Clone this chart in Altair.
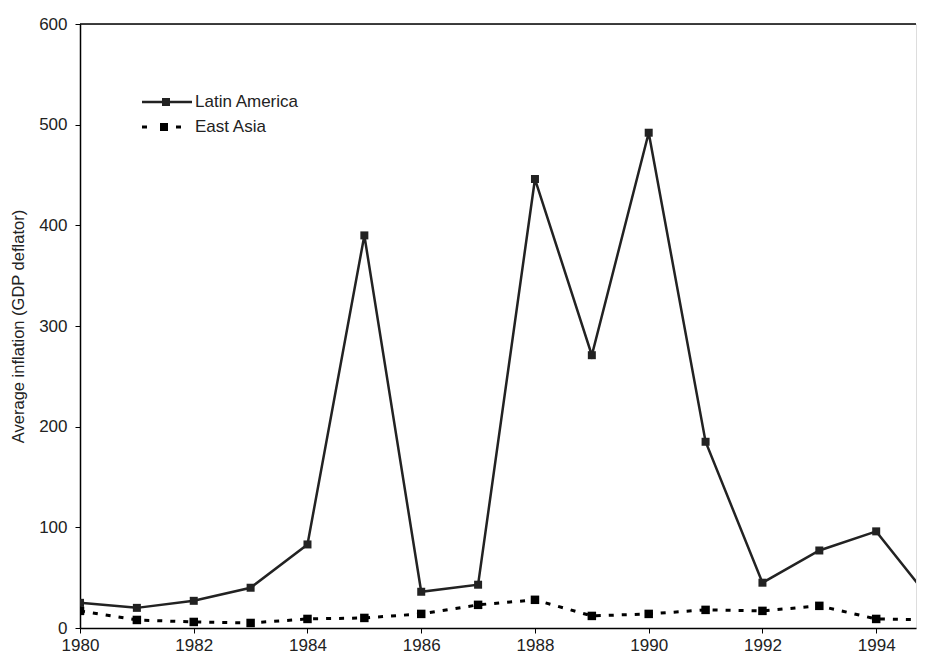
import altair as alt
import pandas as pd

years = list(range(1980, 1996))
latin_america = [25, 20, 27, 40, 83, 390, 36, 43, 446, 271, 492, 185, 45, 77, 96, 25]
east_asia = [17, 8, 6, 5, 9, 10, 14, 23, 28, 12, 14, 18, 17, 22, 9, 8]
series_names = ["Latin America", "East Asia"]
x_ticks = [1980, 1982, 1984, 1986, 1988, 1990, 1992, 1994]
y_ticks = [0, 100, 200, 300, 400, 500, 600]

df = pd.DataFrame({
    "year": years * 2,
    "value": latin_america + east_asia,
    "series": [series_names[0]] * len(years) + [series_names[1]] * len(years),
})

W = 836
H = 604
FONT = "Liberation Sans"
INK = "#222222"

x_scale = alt.Scale(domain=[1980, 1994.70], nice=False, zero=False)
y_scale = alt.Scale(domain=[0, 600], nice=False)

x_enc = alt.X("year:Q", scale=x_scale,
              axis=alt.Axis(values=x_ticks, format="d", title=None, grid=False,
                            tickSize=5, labelPadding=4, labelFontSize=17,
                            labelFont=FONT, labelColor=INK, domainColor="black",
                            domainWidth=1.5, tickColor="black", labelFlush=False,
                            labelOverlap=False))
y_enc = alt.Y("value:Q", scale=y_scale,
              axis=alt.Axis(values=y_ticks, title="Average inflation (GDP deflator)",
                            grid=False, tickSize=5, labelPadding=8, labelFontSize=17,
                            labelFont=FONT, labelColor=INK, titleFont=FONT,
                            titleFontSize=16.5, titleFontWeight="normal", titleColor=INK,
                            titlePadding=12, domainColor="black", domainWidth=1.5,
                            tickColor="black"))

la = alt.Chart(df).transform_filter(alt.datum.series == series_names[0]).mark_line(
    color=INK, strokeWidth=2.5, clip=True,
    point=alt.OverlayMarkDef(shape="square", size=64, filled=True, color=INK, clip=True),
).encode(x=x_enc, y=y_enc)

ea = alt.Chart(df).transform_filter(alt.datum.series == series_names[1]).mark_line(
    color="black", strokeWidth=3, strokeDash=[5, 8], clip=True,
    point=alt.OverlayMarkDef(shape="square", size=72, filled=True, color="black", clip=True),
).encode(x="year:Q", y="value:Q")

top_line = alt.Chart(pd.DataFrame({"series": [series_names[0]]})).mark_rule(
    color="black", strokeWidth=1.5
).encode(x=alt.value(0), x2=alt.value(W), y=alt.value(0))

leg_df = pd.DataFrame({"series": series_names})
legend_layers = []
for i, name in enumerate(series_names):
    yy = 78 + 25 * i
    d = leg_df[leg_df.series == name]
    if i == 0:
        line = alt.Chart(d).mark_rule(color=INK, strokeWidth=2.5).encode(
            x=alt.value(62), x2=alt.value(112), y=alt.value(yy))
        sq_x = 86
    else:
        line = alt.Chart(d).mark_rule(color="black", strokeWidth=3, strokeDash=[5, 29]).encode(
            x=alt.value(62), x2=alt.value(101), y=alt.value(yy))
        sq_x = 84
    legend_layers.append(line)
    legend_layers.append(alt.Chart(d).mark_square(size=64, color=INK if i == 0 else "black", opacity=1)
                         .encode(x=alt.value(sq_x), y=alt.value(yy)))
    legend_layers.append(alt.Chart(d).mark_text(align="left", baseline="middle", font=FONT,
                                                fontSize=17, color=INK)
                         .encode(x=alt.value(115), y=alt.value(yy), text="series:N"))

chart = alt.layer(la, ea, top_line, *legend_layers).properties(
    width=W, height=H,
    padding={"left": 2, "top": 7, "right": 0, "bottom": 0},
).configure_view(strokeWidth=0).configure(background="white")

chart.save("out.html", embed_options={"renderer": "svg", "actions": False})
